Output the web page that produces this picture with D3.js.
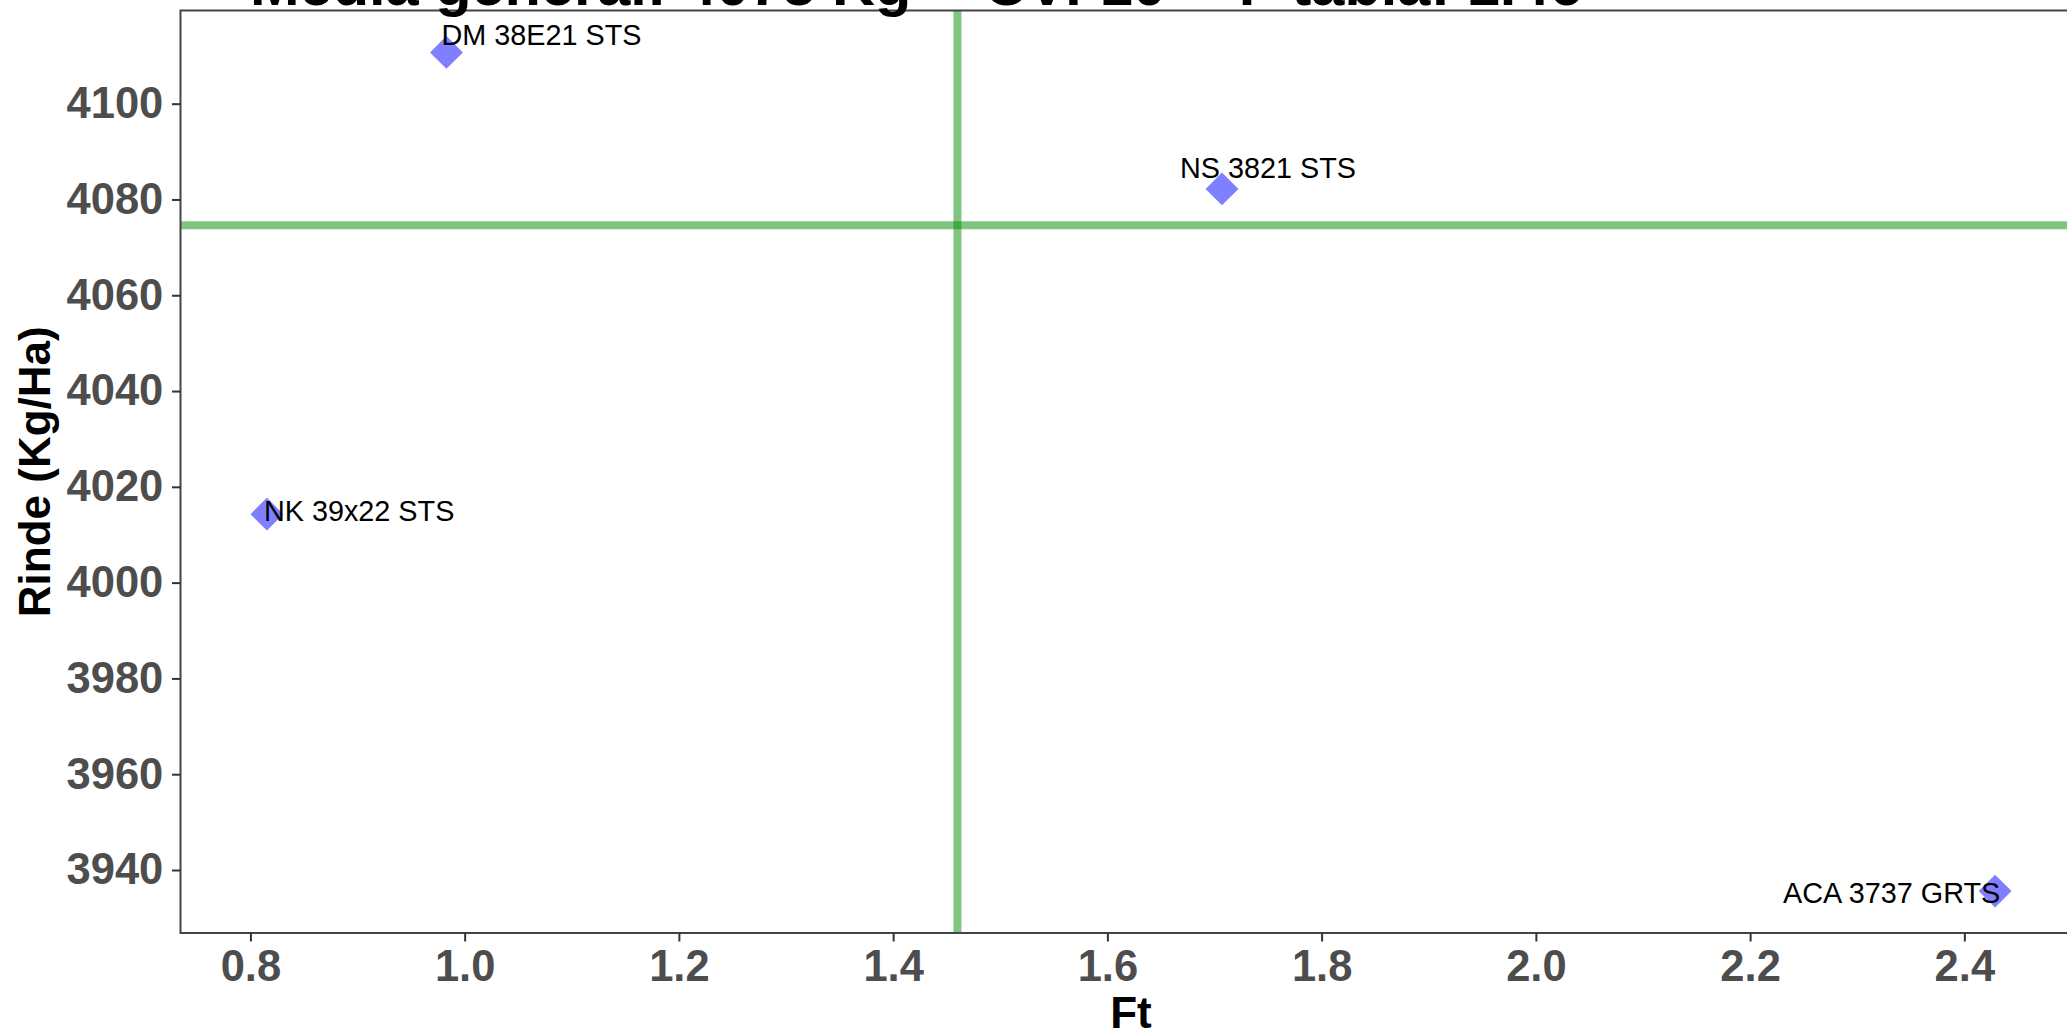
<!DOCTYPE html>
<html>
<head>
<meta charset="utf-8">
<script src="https://cdn.jsdelivr.net/npm/d3@7"></script>
<style>
  html, body { margin: 0; padding: 0; background: #fff; }
  svg { display: block; }
</style>
</head>
<body>
<svg id="chart" width="2067" height="1033"></svg>
<script>
// ---- data ----
const genotypes = ["DM 38E21 STS", "NS 3821 STS", "NK 39x22 STS", "ACA 3737 GRTS"];
const ftValues = [0.983, 1.707, 0.8154, 2.4287];
const rindeValues = [4110.7, 4082.2, 4014.3, 3935.6];
const mediaGeneral = 4074.6;
const fTabla = 1.46;
const xTicks = [0.8, 1.0, 1.2, 1.4, 1.6, 1.8, 2.0, 2.2, 2.4];
const yTicks = [3940, 3960, 3980, 4000, 4020, 4040, 4060, 4080, 4100];
const titleText = "Media general: 4075 Kg -- CV: 10 -- F tabla: 1.46";
const xTitle = "Ft";
const yTitle = "Rinde (Kg/Ha)";
// label placement (repel-like pixel offsets from each point)
const labelOffsets = [[-5, -7], [-42, -11], [-3, 7], [-212, 12]];

// ---- layout ----
const W = 2067, H = 1033;
const panel = { left: 180.5, right: 2081.5, top: 10.5, bottom: 933 };
const svg = d3.select("#chart");
svg.append("rect").attr("width", W).attr("height", H).attr("fill", "#fff");

function expand(ext, f) { const d = ext[1] - ext[0]; return [ext[0] - d * f, ext[1] + d * f]; }
const x = d3.scaleLinear().domain(expand(d3.extent(ftValues), 0.05)).range([panel.left, panel.right]);
const y = d3.scaleLinear().domain(expand(d3.extent(rindeValues), 0.05)).range([panel.bottom, panel.top]);

svg.append("defs").append("clipPath").attr("id", "clip")
  .append("rect").attr("x", panel.left).attr("y", panel.top)
  .attr("width", panel.right - panel.left).attr("height", panel.bottom - panel.top);

const plot = svg.append("g").attr("clip-path", "url(#clip)");

// reference lines
plot.append("line")
  .attr("x1", panel.left).attr("x2", panel.right)
  .attr("y1", y(mediaGeneral)).attr("y2", y(mediaGeneral))
  .attr("stroke", "#008B00").attr("stroke-opacity", 0.5).attr("stroke-width", 8);
plot.append("line")
  .attr("x1", x(fTabla)).attr("x2", x(fTabla))
  .attr("y1", panel.top).attr("y2", panel.bottom)
  .attr("stroke", "#008B00").attr("stroke-opacity", 0.5).attr("stroke-width", 8);

const data = genotypes.map((g, i) => ({ name: g, ft: ftValues[i], rinde: rindeValues[i], off: labelOffsets[i] }));

// points (diamonds)
const diamond = d3.symbol().type(d3.symbolSquare).size(540);
plot.selectAll("path.pt").data(data).enter().append("path")
  .attr("class", "pt")
  .attr("d", diamond)
  .attr("transform", d => `translate(${x(d.ft)},${y(d.rinde)}) rotate(45)`)
  .attr("fill", "blue").attr("fill-opacity", 0.5);

// labels
plot.selectAll("text.lbl").data(data).enter().append("text")
  .attr("class", "lbl")
  .attr("x", d => x(d.ft) + d.off[0])
  .attr("y", d => y(d.rinde) + d.off[1])
  .attr("font-family", "Liberation Sans, Arial, sans-serif")
  .attr("font-size", 28.8)
  .attr("fill", "#000")
  .text(d => d.name);

// panel border
svg.append("rect")
  .attr("x", panel.left).attr("y", panel.top)
  .attr("width", panel.right - panel.left).attr("height", panel.bottom - panel.top)
  .attr("fill", "none").attr("stroke", "#444").attr("stroke-width", 2);

// axes
const xAxis = svg.append("g").attr("transform", `translate(0,${panel.bottom})`)
  .call(d3.axisBottom(x).tickValues(xTicks).tickFormat(d3.format(".1f")).tickSize(8.5).tickPadding(8.5));
const yAxis = svg.append("g").attr("transform", `translate(${panel.left},0)`)
  .call(d3.axisLeft(y).tickValues(yTicks).tickFormat(d3.format("d")).tickSize(8.5).tickPadding(8.7));
[xAxis, yAxis].forEach(a => {
  a.select(".domain").remove();
  a.selectAll(".tick line").attr("stroke", "#333").attr("stroke-width", 2);
  a.selectAll(".tick text")
    .attr("font-family", "Liberation Sans, Arial, sans-serif")
    .attr("font-weight", "bold").attr("font-size", 43.5).attr("fill", "#4D4D4D");
});

// axis titles
svg.append("text")
  .attr("x", (panel.left + panel.right) / 2).attr("y", 1028)
  .attr("text-anchor", "middle")
  .attr("font-family", "Liberation Sans, Arial, sans-serif")
  .attr("font-weight", "bold").attr("font-size", 44).attr("fill", "#000")
  .text(xTitle);
svg.append("text")
  .attr("transform", `translate(50,${(panel.top + panel.bottom) / 2}) rotate(-90)`)
  .attr("text-anchor", "middle")
  .attr("font-family", "Liberation Sans, Arial, sans-serif")
  .attr("font-weight", "bold").attr("font-size", 44).attr("fill", "#000")
  .text(yTitle);

// title (cut off at top as in the reference)
svg.append("text")
  .attr("x", 250).attr("y", 5)
  .attr("font-family", "Liberation Sans, Arial, sans-serif")
  .attr("font-weight", "bold").attr("font-size", 59.5).attr("fill", "#000")
  .text(titleText);
</script>
</body>
</html>
